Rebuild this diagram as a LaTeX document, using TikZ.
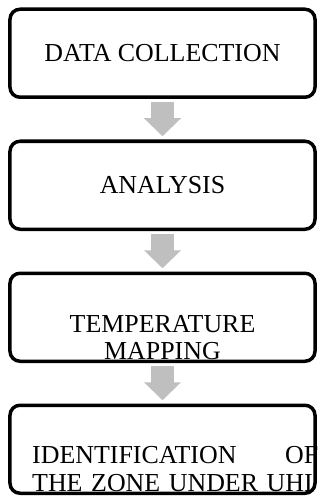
\documentclass[tikz,border=0pt]{standalone}
\usepackage{fontspec}
\setmainfont{Liberation Serif}
\usetikzlibrary{positioning, arrows.meta}
\definecolor{arrowgray}{RGB}{191,191,191}
\tikzset{
  stage/.style = {draw, line width=3.5bp, rounded corners=10bp, minimum width=305bp,
    minimum height=88bp, outer sep=0pt, font=\fontsize{26}{28}\selectfont},
  stagetext/.style = {inner sep=0pt},
  flow/.style = {arrowgray, line width=23bp, -{Triangle[width=36bp, length=18bp]},
    shorten <=5bp, shorten >=5bp}
}

\begin{document}
\begin{tikzpicture}[x=1bp, y=-1bp, node distance=44bp]
    \useasboundingbox (0,0) rectangle (320,497);
    \node[stage] (collect) at (162.5,53.25) {DATA COLLECTION};
    \node[stage, below=of collect] (analysis) {ANALYSIS};
    \node[stage, below=of analysis] (mapping) {};
    \node[stage, below=of mapping] (zone) {};
    % the two last texts sit low and run over the box
    \node[stagetext, align=center, anchor=north, font=\fontsize{26}{27}\selectfont]
        (maptext) at ([yshift=2bp]mapping.center) {TEMPERATURE\\MAPPING};
    \node[stagetext, text width=286bp, align=left, anchor=north west, font=\fontsize{26}{28}\selectfont]
        (zonetext) at ([xshift=22bp, yshift=3bp]zone.west) {IDENTIFICATION\hfill OF\\THE ZONE UNDER UHI};
    \draw[flow] (collect) -- (analysis);
    \draw[flow] (analysis) -- (mapping);
    \draw[flow] (mapping) -- (zone);
\end{tikzpicture}
\end{document}
